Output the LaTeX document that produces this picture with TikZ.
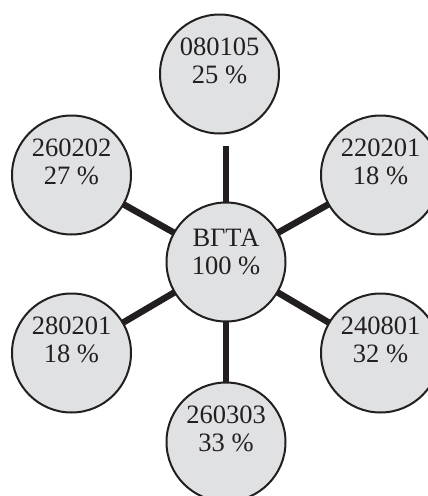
\documentclass[tikz,border=0pt]{standalone}
\usepackage{fontspec}
\setmainfont{Liberation Serif}
\usetikzlibrary{backgrounds}
\definecolor{bubfill}{RGB}{224,225,227}
\definecolor{ink}{RGB}{35,31,32}
\tikzset{
  bub/.style={circle, draw=ink, line width=2pt, fill=bubfill, minimum size=119pt, inner sep=0pt},
  txt/.style={align=center, inner sep=0pt, text=ink, font=\fontsize{26.5}{28}\selectfont},
  spoke/.style={draw=ink, line width=6.5pt}
}
\begin{document}
\begin{tikzpicture}[x=1pt,y=-1pt]
\useasboundingbox (0,0) rectangle (428,496);
\clip (0,0) rectangle (428,496);
\node[bub] (c)  at (226,262) {};
\node[bub] (t)  at (219.5,74) {};
\node[bub] (tl) at (71.5,175) {};
\node[bub] (tr) at (380.5,175) {};
\node[bub] (bl) at (71.5,353) {};
\node[bub] (br) at (380.5,353) {};
\node[bub] (b)  at (226,442) {};
\coordinate (topend) at (226,146);
\node[txt] at ([yshift=10pt]c.center)  {ВГТА\\100 \%};
\node[txt] at ([yshift=13pt]t.center)  {080105\\25 \%};
\node[txt] at ([yshift=13pt]tl.center) {260202\\27 \%};
\node[txt] at ([yshift=13pt]tr.center) {220201\\18 \%};
\node[txt] at ([yshift=13pt]bl.center) {280201\\18 \%};
\node[txt] at ([yshift=13pt]br.center) {240801\\32 \%};
\node[txt] at ([yshift=13pt]b.center)  {260303\\33 \%};
\begin{scope}[on background layer]
\draw[spoke] (c.center) -- (topend);
\draw[spoke] (c.center) -- (tl.center);
\draw[spoke] (c.center) -- (tr.center);
\draw[spoke] (c.center) -- (bl.center);
\draw[spoke] (c.center) -- (br.center);
\draw[spoke] (c.center) -- (b.center);
\end{scope}
\end{tikzpicture}
\end{document}
